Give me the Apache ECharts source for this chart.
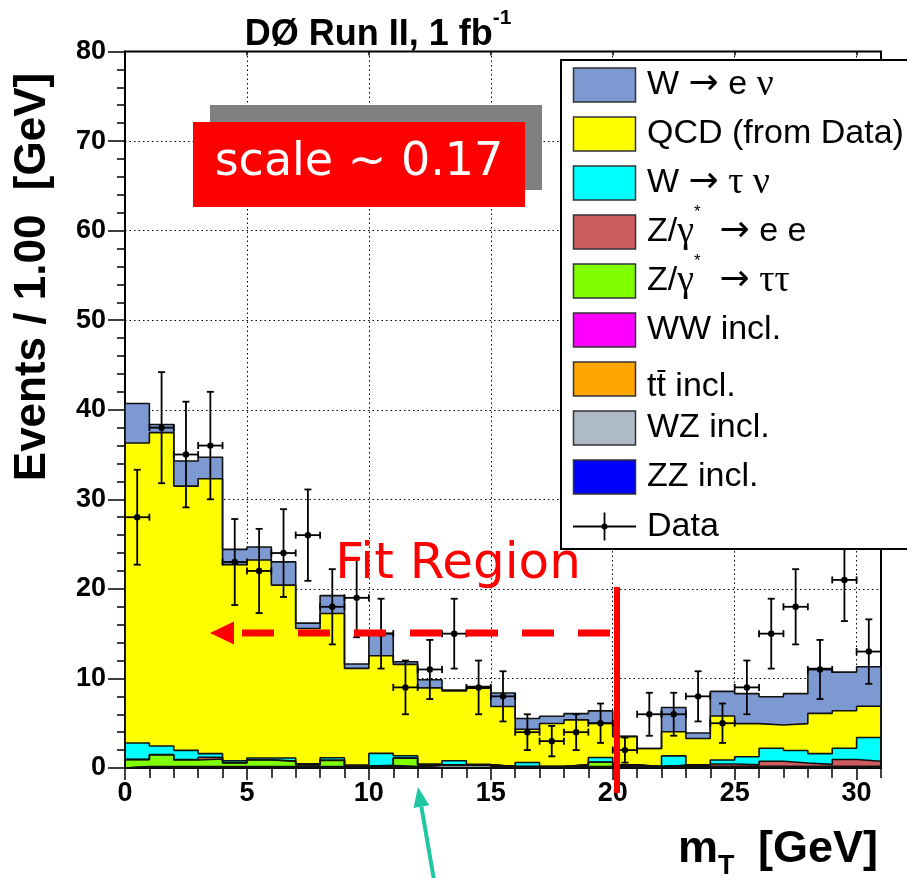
<!DOCTYPE html>
<html>
<head>
<meta charset="utf-8">
<script src="https://cdn.jsdelivr.net/npm/echarts@6/dist/echarts.min.js"></script>
<style>
  html, body { margin: 0; padding: 0; background: #ffffff; }
  #chart { width: 907px; height: 878px; }
</style>
</head>
<body>
<div id="chart"></div>
<script>
// Lower edges of the 1 GeV m_T bins
const binLow = [0,1,2,3,4,5,6,7,8,9,10,11,12,13,14,15,16,17,18,19,20,21,22,23,24,25,26,27,28,29,30];

// Per-bin expected events for each process (stacked, bottom to top: ZZ ... W->e nu)
const zzIncl   = [0.05,0.05,0.05,0.05,0.05,0.05,0.05,0.05,0.05,0.05,0.05,0.05,0.05,0.05,0.05,0.05,0.05,0.05,0.05,0.05,0.05,0.05,0.05,0.05,0.05,0.05,0.05,0.05,0.05,0.05,0.05];
const wzIncl   = [0.05,0.05,0.05,0.05,0.05,0.05,0.05,0.05,0.05,0.05,0.05,0.05,0.25,0.25,0.25,0.05,0.05,0.05,0.05,0.05,0.2,0.05,0.05,0.05,0.05,0.05,0.05,0.05,0.05,0.05,0.05];
const ttIncl   = [0.03,0.03,0.03,0.03,0.03,0.03,0.03,0.03,0.03,0.03,0.15,0.03,0.03,0.03,0.03,0.03,0.03,0.03,0.03,0.03,0.03,0.03,0.15,0.03,0.03,0.03,0.03,0.03,0.03,0.03,0.03];
const wwIncl   = [0.02,0.02,0.02,0.02,0.02,0.02,0.02,0.02,0.02,0.02,0.02,0.02,0.02,0.02,0.02,0.02,0.02,0.02,0.02,0.02,0.02,0.02,0.02,0.02,0.02,0.02,0.02,0.02,0.02,0.02,0.02];
const zTauTau  = [0.78,1.3,0.75,0.85,0.4,0.75,0.6,0.2,0.7,0.05,0,0.95,0,0,0,0,0,0,0.2,0.5,0,0,0,0,0,0,0,0,0,0,0];
const zEE      = [0.03,0.05,0.05,0.2,0.05,0.02,0.02,0.02,0.02,0.02,0.02,0.02,0.02,0.02,0.02,0.02,0.02,0.02,0.02,0.02,0.02,0.02,0.02,0.05,0.3,0.2,0.6,0.4,0.25,0.8,0.6];
const wTauNu   = [1.83,0.95,1.02,0.4,0.21,0.2,0.35,0.11,0.28,0.1,1.34,0.25,0.08,0.44,0.03,0,0.45,0,0,0.51,0.03,0,1.06,0.15,0.45,0.9,1.45,1.4,1.2,1.25,2.65];
const qcdData  = [33.5,35.0,29.5,30.7,21.9,22.1,19.3,15.1,16.1,10.8,10.9,10.2,8.5,7.8,8.5,6.7,3.7,4.8,5.0,3.8,3.15,2.0,2.7,2.95,4.9,3.7,2.6,3.0,4.5,4.2,3.5];
const wENu     = [4.4,0.9,2.8,2.4,1.7,1.45,2.6,0.6,2.0,0.5,2.5,0.3,0.9,0.1,0.2,1.5,1.2,0.8,0.7,1.4,0.05,0.0,2.7,0.6,2.75,3.35,3.15,3.35,5.0,4.3,4.4];

// Observed events and their uncertainties
const dataCounts = [28,38,35,36,23,22,24,26,18,19,15,9,11,15,9,8,4,3,4,5,2,6,6,8,5,9,15,18,11,21,13];
const dataErrors = [5.3,6.2,5.9,6.0,4.8,4.7,4.9,5.1,4.2,4.4,3.9,3.0,3.3,3.9,3.0,2.8,2.0,1.7,2.0,2.2,1.4,2.4,2.4,2.8,2.2,3.0,3.9,4.2,3.3,4.6,3.6];

// Axis ticks
const xTicks = [0,5,10,15,20,25,30];
const yTicks = [0,10,20,30,40,50,60,70,80];

const processes = [
  { name: 'ZZ incl.',            vals: zzIncl,  color: '#0000ff' },
  { name: 'WZ incl.',            vals: wzIncl,  color: '#aebac6' },
  { name: 'tt incl.',            vals: ttIncl,  color: '#ffa500' },
  { name: 'WW incl.',            vals: wwIncl,  color: '#ff00ff' },
  { name: 'Z/γ* → ττ',           vals: zTauTau, color: '#80ff00' },
  { name: 'Z/γ* → e e',          vals: zEE,     color: '#cd5c5f' },
  { name: 'W → τ ν',             vals: wTauNu,  color: '#00ffff' },
  { name: 'QCD (from Data)',     vals: qcdData, color: '#ffff00' },
  { name: 'W → e ν',             vals: wENu,    color: '#7d99d1' }
];

// running sums give the top of each stacked layer
let running = binLow.map(() => 0);
processes.forEach(p => {
  running = running.map((v, i) => v + p.vals[i]);
  p.cum = running.slice();
});

// outline of a histogram: step line along the bin tops, closed at both ends
function histPoints(cum) {
  const last = binLow.length - 1;
  const pts = [[binLow[0], 0]];
  binLow.forEach((x, i) => pts.push([x, cum[i]]));
  pts.push([binLow[last] + 1, cum[last]]);
  pts.push([binLow[last] + 1, 0]);
  return pts;
}

const stackSeries = processes.slice().reverse().map(p => ({
  name: p.name,
  type: 'line',
  step: 'end',
  data: histPoints(p.cum),
  symbol: 'none',
  showSymbol: false,
  silent: true,
  animation: false,
  lineStyle: { color: '#111', width: 1.6 },
  areaStyle: { color: p.color, opacity: 1 },
  z: 2
}));

const dataSeries = {
  name: 'Data',
  type: 'custom',
  silent: true,
  animation: false,
  z: 5,
  dimensions: ['x', 'y', 'err'],
  encode: { x: 0, y: 1 },
  data: dataCounts.map((v, i) => [binLow[i] + 0.5, v, dataErrors[i]]),
  renderItem: function (params, api) {
    const x = api.value(0), y = api.value(1), e = api.value(2);
    const c = api.coord([x, y]);
    const t = api.coord([x, y + e]);
    const b = api.coord([x, Math.max(0, y - e)]);
    const l = api.coord([x - 0.5, y]);
    const r = api.coord([x + 0.5, y]);
    const st = { stroke: '#000', lineWidth: 1.8 };
    const cap = 3.5;
    const ln = (x1, y1, x2, y2) => ({ type: 'line', shape: { x1, y1, x2, y2 }, style: st });
    return {
      type: 'group',
      children: [
        ln(c[0], t[1], c[0], b[1]),
        ln(l[0], c[1], r[0], c[1]),
        ln(c[0] - cap, t[1], c[0] + cap, t[1]),
        ln(c[0] - cap, b[1], c[0] + cap, b[1]),
        ln(l[0], c[1] - cap, l[0], c[1] + cap),
        ln(r[0], c[1] - cap, r[0], c[1] + cap),
        { type: 'circle', shape: { cx: c[0], cy: c[1], r: 3.2 }, style: { fill: '#000' } }
      ]
    };
  }
};

// ---------- text helpers ----------
const measureCtx = document.createElement('canvas').getContext('2d');
function textWidth(text, font) { measureCtx.font = font; return measureCtx.measureText(text).width; }

function txt(text, x, y, font, fill, align, extra) {
  return Object.assign({
    type: 'text', x: x, y: y, z: 100, silent: true,
    style: { text: text, font: font, fill: fill || '#000',
             align: align || 'left', verticalAlign: 'middle',
             textAlign: align || 'left', textVerticalAlign: 'middle' }
  }, extra || {});
}

// a run of differently styled pieces placed one after another
function textRun(pieces, x0, yc) {
  const out = [];
  let x = x0;
  pieces.forEach(p => {
    const font = (p.weight || 'normal') + ' ' + p.size + 'px ' + (p.family || '"Liberation Sans"');
    out.push(txt(p.t, x, yc + (p.dy || 0), font, p.fill));
    x += textWidth(p.t, font) + (p.gap || 0);
  });
  return { els: out, end: x };
}

const SANS = '"Liberation Sans", Arial, sans-serif';
const SERIF = '"Liberation Serif", "DejaVu Serif", serif';
const ARROW = '"DejaVu Sans", sans-serif';
const LS = 34;
const GS = 38;

// legend labels as styled pieces
const arrow = { t: '→', family: ARROW, size: 36 };
const greek = (s) => ({ t: s, family: SERIF, size: GS });
const legendPieces = [
  [{t: 'W '}, arrow, {t: ' e '}, greek('ν')],
  [{t: 'QCD (from Data)'}],
  [{t: 'W '}, arrow, {t: ' '}, greek('τ'), {t: ' '}, greek('ν')],
  [{t: 'Z/'}, greek('γ'), {t: '*', size: 17, dy: -20}, {t: '  '}, arrow, {t: ' e e'}],
  [{t: 'Z/'}, greek('γ'), {t: '*', size: 17, dy: -20}, {t: '  '}, arrow, {t: ' '}, greek('ττ')],
  [{t: 'WW incl.'}],
  [{t: 'tt incl.', dy: 8}],
  [{t: 'WZ incl.'}],
  [{t: 'ZZ incl.'}]
];
const legendColors = processes.slice().reverse().map(p => p.color);

const graphics = [];

// legend box
const LX = 561, LY = 60, LH = 489;
graphics.push({ type: 'rect', z: 99, silent: true,
  shape: { x: LX, y: LY, width: 400, height: LH },
  style: { fill: '#fff', stroke: '#000', lineWidth: 2 } });
legendPieces.forEach((pieces, i) => {
  const yc = 85 + 49 * i;
  graphics.push({ type: 'rect', z: 100, silent: true,
    shape: { x: 573.5, y: yc - 17, width: 62, height: 34 },
    style: { fill: legendColors[i], stroke: '#333', lineWidth: 1.5 } });
  const run = textRun(pieces.map(p => Object.assign({ size: LS, family: SANS }, p)), 647, yc);
  graphics.push(...run.els);
});
// bar over the second t of the t-tbar label
(function () {
  const f = 'normal ' + LS + 'px ' + SANS;
  const w1 = textWidth('t', f);
  const yc = 85 + 49 * 6 + 8;
  graphics.push({ type: 'line', z: 101, silent: true,
    shape: { x1: 647 + w1 + 1, y1: yc - 16, x2: 647 + 2 * w1 - 0.5, y2: yc - 16 },
    style: { stroke: '#000', lineWidth: 2 } });
})();
// data entry in the legend
(function () {
  const yc = 526.5;
  graphics.push({ type: 'line', z: 100, silent: true, shape: { x1: 573, y1: yc, x2: 636, y2: yc }, style: { stroke: '#000', lineWidth: 1.8 } });
  graphics.push({ type: 'line', z: 100, silent: true, shape: { x1: 604.5, y1: yc - 14, x2: 604.5, y2: yc + 14 }, style: { stroke: '#000', lineWidth: 1.8 } });
  graphics.push({ type: 'circle', z: 100, silent: true, shape: { cx: 604.5, cy: yc, r: 3 }, style: { fill: '#000' } });
  graphics.push(txt('Data', 647, yc, 'normal ' + LS + 'px ' + SANS));
})();

// title
(function () {
  const f1 = 'bold 36px ' + SANS, f2 = 'bold 21px ' + SANS;
  const total = textWidth('DØ Run II, 1 fb', f1) + textWidth('-1', f2);
  const x0 = 378 - total / 2;
  const run = textRun([
    { t: 'DØ Run II, 1 fb', size: 36, weight: 'bold', family: SANS },
    { t: '-1', size: 21, weight: 'bold', family: SANS, dy: -17 }
  ], x0, 35);
  graphics.push(...run.els);
})();

// y axis title
graphics.push(txt('Events / 1.00  [GeV]', 33, 277, 'bold 44px ' + SANS, '#000', 'center', { rotation: Math.PI / 2 }));

// x axis title
(function () {
  const fb = 'bold 45px ' + SANS;
  graphics.push(txt('[GeV]', 878, 850, fb, '#000', 'right'));
  graphics.push(txt('T', 718, 867, 'bold 27px ' + SANS, '#000', 'left'));
  graphics.push(txt('m', 718, 850, fb, '#000', 'right'));
})();

// scale note
graphics.push({ type: 'rect', z: 100, silent: true, shape: { x: 210, y: 105, width: 332, height: 85 }, style: { fill: '#808080' } });
graphics.push({ type: 'rect', z: 101, silent: true, shape: { x: 193, y: 122, width: 332, height: 85 }, style: { fill: '#ff0000' } });
graphics.push(Object.assign(txt('scale ~ 0.17', 359, 163, 'normal 46px "DejaVu Sans", sans-serif', '#ffffff', 'center'), { z: 102 }));

// fit region marker
graphics.push(txt('Fit Region', 458, 565, 'normal 50px "DejaVu Sans", sans-serif', '#ff0000', 'center'));
graphics.push({ type: 'line', z: 100, silent: true, shape: { x1: 242, y1: 633, x2: 610, y2: 633 },
  style: { stroke: '#ff0000', lineWidth: 7, lineDash: [32, 24] } });
graphics.push({ type: 'polygon', z: 100, silent: true, shape: { points: [[210, 633], [234, 621.5], [234, 644.5]] }, style: { fill: '#ff0000' } });
graphics.push({ type: 'line', z: 100, silent: true, shape: { x1: 617, y1: 587, x2: 617, y2: 793 },
  style: { stroke: '#ff0000', lineWidth: 6 } });

// teal pointer below the axis
(function () {
  const tip = [418, 787], tail = [434, 880];
  const dx = tip[0] - tail[0], dy = tip[1] - tail[1];
  const len = Math.hypot(dx, dy), ux = dx / len, uy = dy / len;
  const bc = [tip[0] - 20 * ux, tip[1] - 20 * uy];
  const px = -uy, py = ux;
  graphics.push({ type: 'line', z: 100, silent: true, shape: { x1: tail[0], y1: tail[1], x2: bc[0], y2: bc[1] },
    style: { stroke: '#1fc8a2', lineWidth: 4 } });
  graphics.push({ type: 'polygon', z: 100, silent: true,
    shape: { points: [tip, [bc[0] + 8 * px, bc[1] + 8 * py], [bc[0] - 8 * px, bc[1] - 8 * py]] },
    style: { fill: '#1fc8a2' } });
})();

const axisFont = { fontSize: 27, fontWeight: 'bold', fontFamily: 'Liberation Sans', color: '#000' };
const dotted = { show: true, lineStyle: { color: '#000', width: 1, type: [1.5, 3] } };

const option = {
  animation: false,
  backgroundColor: '#ffffff',
  grid: { left: 125, right: 26, top: 51.5, bottom: 110, show: true, borderColor: '#000', borderWidth: 2, backgroundColor: 'transparent' },
  xAxis: [
    { type: 'value', min: xTicks[0], max: 31, interval: xTicks[1] - xTicks[0], position: 'bottom',
      axisLine: { lineStyle: { color: '#000', width: 2 } },
      axisTick: { length: 12, lineStyle: { color: '#000', width: 1.5 } },
      axisLabel: Object.assign({ margin: 12, showMaxLabel: false }, axisFont),
      splitLine: dotted },
    { type: 'value', min: 0, max: 31, interval: 1, position: 'bottom',
      axisLine: { show: false }, axisLabel: { show: false }, splitLine: { show: false },
      axisTick: { length: 10, lineStyle: { color: '#000', width: 1.5 } } },
    { type: 'value', min: 0, max: 31, interval: 5, position: 'top',
      axisLine: { show: false }, axisLabel: { show: false }, splitLine: { show: false },
      axisTick: { inside: true, length: 4, lineStyle: { color: '#000', width: 1.5 } } }
  ],
  yAxis: { type: 'value', min: yTicks[0], max: yTicks[yTicks.length - 1], interval: yTicks[1] - yTicks[0],
    axisLine: { show: true, lineStyle: { color: '#000', width: 2 } },
    axisTick: { show: true, length: 17, lineStyle: { color: '#000', width: 1.5 } },
    minorTick: { show: true, splitNumber: 5, length: 8, lineStyle: { color: '#000', width: 1.5 } },
    axisLabel: Object.assign({ margin: 19 }, axisFont),
    splitLine: dotted },
  series: stackSeries.concat([dataSeries]),
  graphic: { elements: graphics }
};

const chart = echarts.init(document.getElementById('chart'), null, { renderer: 'canvas' });
chart.setOption(option);
</script>
</body>
</html>
